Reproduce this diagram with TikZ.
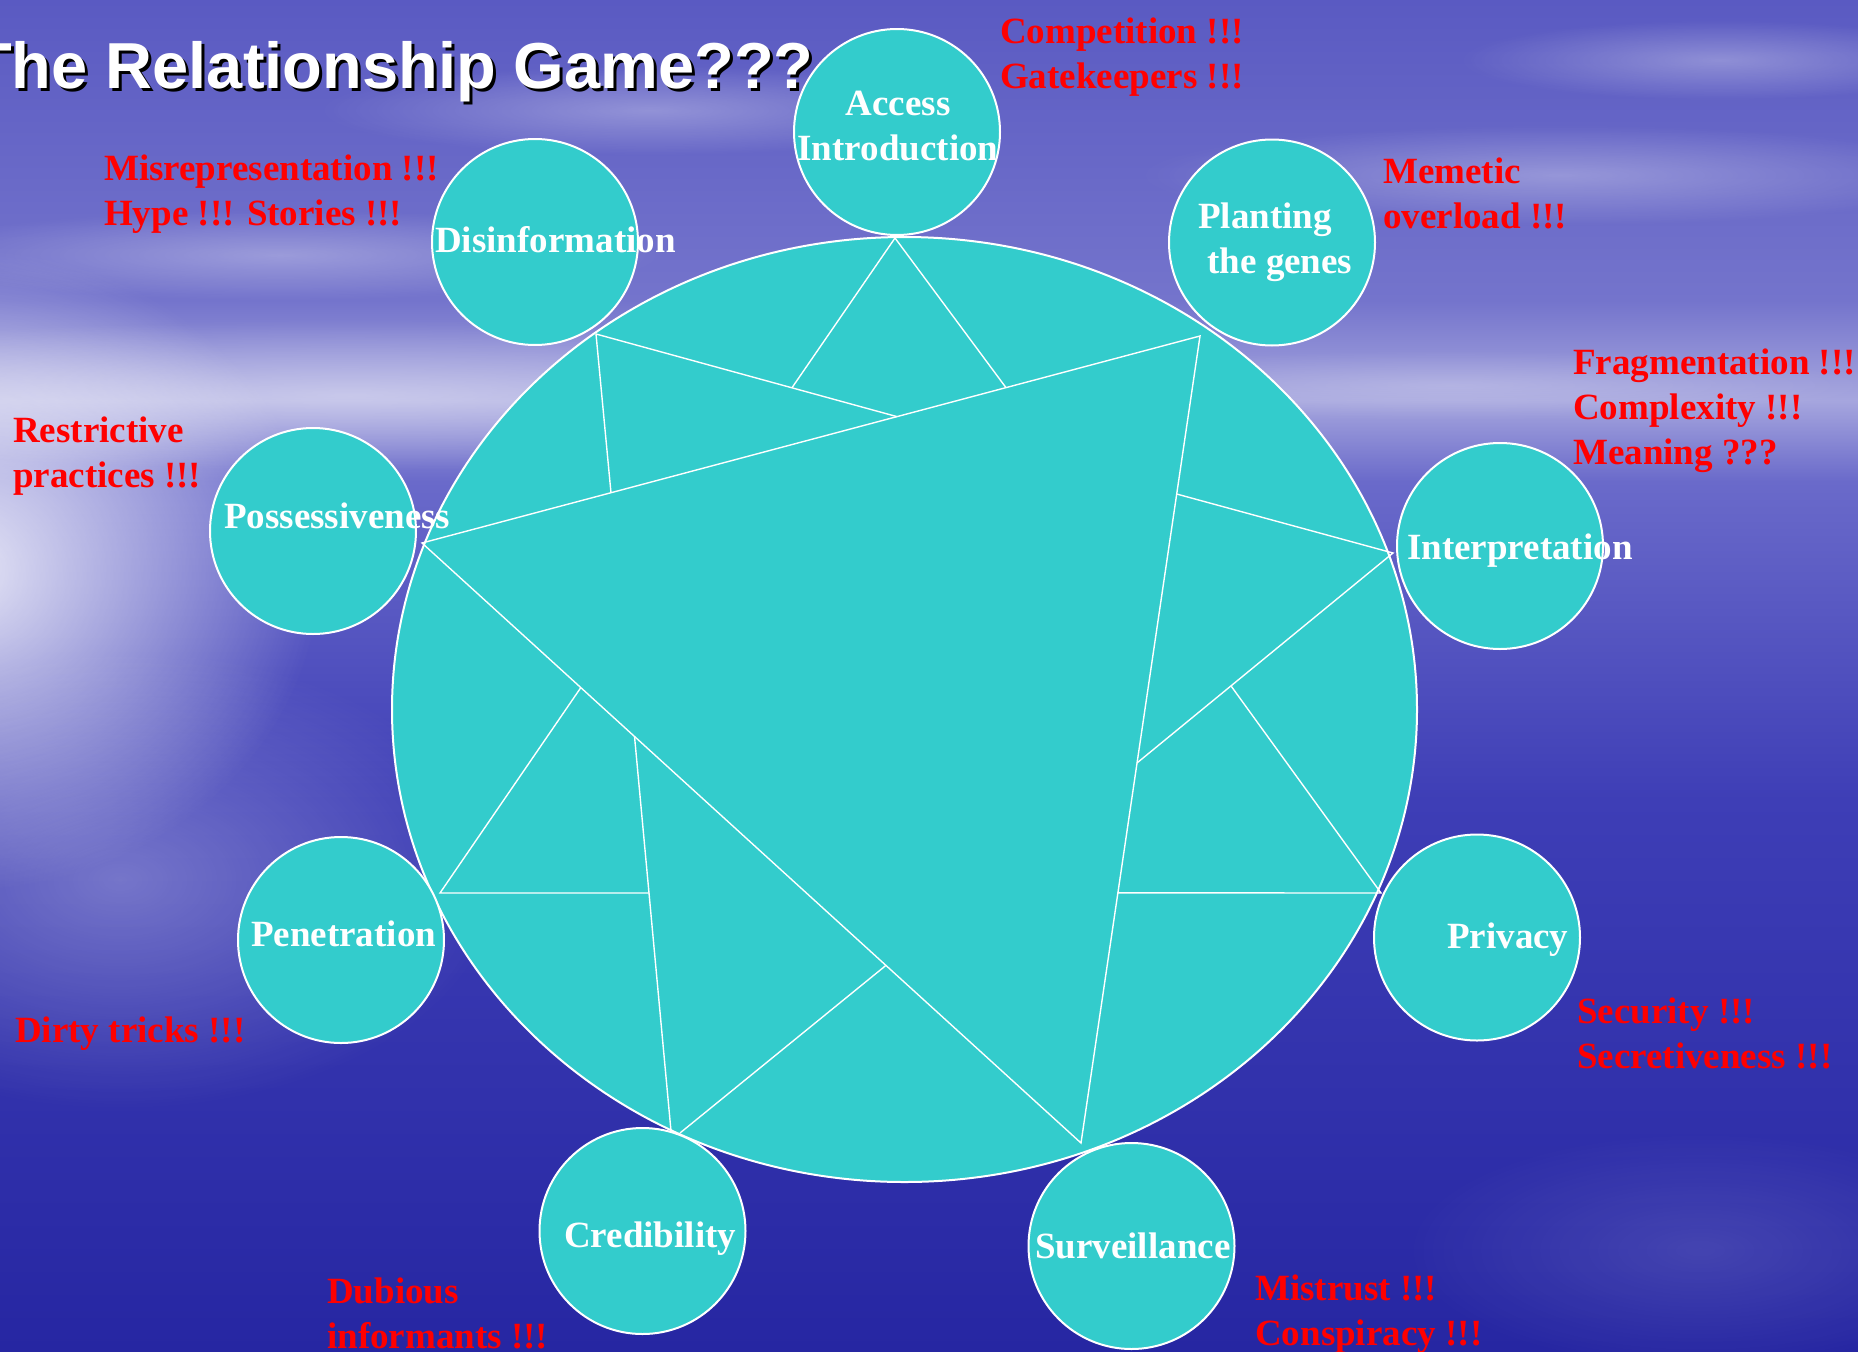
\documentclass[tikz,border=0pt]{standalone}
\usepackage{fontspec}
\setmainfont{Liberation Serif}
\newfontfamily\titlefont{Liberation Sans}
\usetikzlibrary{calc,fadings,shapes.geometric}
\definecolor{turq}{RGB}{51,204,204}
\definecolor{bgA}{RGB}{90,90,194}
\definecolor{bgB}{RGB}{116,116,204}
\definecolor{bgC}{RGB}{166,166,222}
\definecolor{bgD}{RGB}{106,106,202}
\definecolor{bgE}{RGB}{62,62,182}
\definecolor{bgF}{RGB}{38,38,162}
\pgfdeclareverticalshading{bgshade}{100bp}{color(0bp)=(bgF); color(25bp)=(bgF); color(45.4bp)=(bgE); color(57.2bp)=(bgD); color(60.2bp)=(bgC); color(63.9bp)=(bgB); color(75bp)=(bgA); color(100bp)=(bgA)}
\tikzfading[name=softglow, inner color=transparent!0, outer color=transparent!100]
\begin{document}
\begin{tikzpicture}[x=1pt,y=-1pt,
  lbl/.style={font=\fontsize{37}{45}\selectfont\bfseries, inner sep=0pt, align=left, anchor=north west},
  redlbl/.style={lbl, text=red},
  whitelbl/.style={lbl, text=white},
  titlestyle/.style={font=\titlefont\bfseries\fontsize{65}{72}\selectfont, inner sep=0pt, anchor=base west},
  bubble/.style={circle, draw=white, line width=2pt, fill=turq, minimum size=206pt, inner sep=0pt},
  wheelstyle/.style={ellipse, draw=white, line width=2pt, fill=turq, minimum width=1025pt, minimum height=945pt, inner sep=0pt},
  web/.style={draw=white, line width=1.4pt},
  glow/.style={fill=white, path fading=softglow},
]
\useasboundingbox (0,0) rectangle (1858,1352);
% background
\shade[shading=bgshade] (0,0) rectangle (1858,1352);
\fill[glow, fill opacity=0.85] (-40,570) ellipse [x radius=360, y radius=320];
\fill[glow, fill opacity=0.40] (350,395) ellipse [x radius=750, y radius=75];
\fill[glow, fill opacity=0.30] (280,255) ellipse [x radius=380, y radius=45];
\fill[glow, fill opacity=0.30] (650,110) ellipse [x radius=330, y radius=45];
\fill[glow, fill opacity=0.30] (1560,175) ellipse [x radius=420, y radius=50];
\fill[glow, fill opacity=0.30] (1720,60) ellipse [x radius=260, y radius=40];
\fill[glow, fill opacity=0.22] (1450,385) ellipse [x radius=420, y radius=35];
\fill[glow, fill opacity=0.30] (120,880) ellipse [x radius=380, y radius=230];
\fill[glow, fill opacity=0.12] (1700,1250) ellipse [x radius=300, y radius=120];

% main wheel
\node[wheelstyle] (wheel) at (904.5,709.5) {};

% vertices
\coordinate (A) at (895,238);
\coordinate (B) at (596,334);
\coordinate (C) at (1200,336);
\coordinate (D) at (422,543);
\coordinate (E) at (1393,553);
\coordinate (F) at (440,893);
\coordinate (G) at (1381,893);
\coordinate (H) at (671,1131);
\coordinate (H2) at (680,1133);
\coordinate (I) at (1081,1143);
% inner points
\coordinate (M) at ($(D)!0.6105!(C)$);
\coordinate (P2) at ($(D)!0.7506!(C)$);
\coordinate (Q) at ($(D)!0.2429!(C)$);
\coordinate (P1) at ($(B)!0.651!(M)$);
\coordinate (R) at ($(C)!0.1958!(I)$);
\coordinate (S1) at ($(C)!0.529!(I)$);
\coordinate (S2) at ($(C)!0.690!(I)$);
\coordinate (T) at ($(E)!0.633!(S1)$);
\coordinate (N1) at ($(D)!0.241!(I)$);
\coordinate (N2) at ($(D)!0.3225!(I)$);
\coordinate (N3) at ($(D)!0.704!(I)$);
\coordinate (L2) at ($(N2)!0.3967!(H)$);

% web lines
\draw[web] (D) -- (C) -- (I) -- cycle;
\draw[web] (B) -- (M);
\draw[web] (B) -- (Q);
\draw[web] (P1) -- (A) -- (P2);
\draw[web] (R) -- (E) -- (S1);
\draw[web] (T) -- (G) -- (S2);
\draw[web] (N1) -- (F) -- (L2);
\draw[web] (N2) -- (H);
\draw[web] (H2) -- (N3);

% bubbles
\node[bubble] (acc) at (897,132) {};
\node[bubble] (dis) at (535,242) {};
\node[bubble] (pla) at (1272,242.5) {};
\node[bubble] (pos) at (313,531) {};
\node[bubble] (int) at (1500,546) {};
\node[bubble] (pen) at (341,940) {};
\node[bubble] (pri) at (1477,937.5) {};
\node[bubble] (cre) at (642.5,1231) {};
\node[bubble] (sur) at (1131.5,1246) {};

% white labels
\node[whitelbl, anchor=north, align=center] (accl) at (898,83.5) {\strut Access\\\strut Introduction};
\node[whitelbl] (disl) at (435,220.5) {\strut Disinformation};
\node[whitelbl] (plal) at (1198,196.5) {\strut Planting\\\strut~the genes};
\node[whitelbl] (posl) at (224,496.5) {\strut Possessiveness};
\node[whitelbl] (intl) at (1407,527.5) {\strut Interpretation};
\node[whitelbl] (penl) at (251,914.5) {\strut Penetration};
\node[whitelbl] (pril) at (1447,916.5) {\strut Privacy};
\node[whitelbl] (crel) at (564,1215.5) {\strut Credibility};
\node[whitelbl] (surl) at (1035,1226.5) {\strut Surveillance};

% red labels
\node[redlbl] (comp) at (1000,11.5) {\strut Competition !!!\\\strut Gatekeepers !!!};
\node[redlbl] (misr) at (104,148.5) {\strut Misrepresentation !!!\\\strut Hype !!! Stories !!!};
\node[redlbl] (meme) at (1383,151.5) {\strut Memetic\\\strut overload !!!};
\node[redlbl] (frag) at (1573,342.5) {\strut Fragmentation !!!\\\strut Complexity !!!\\\strut Meaning ???};
\node[redlbl] (restr) at (13,410.5) {\strut Restrictive\\\strut practices !!!};
\node[redlbl] (dirty) at (15,1010.5) {\strut Dirty tricks !!!};
\node[redlbl] (secu) at (1577,991.5) {\strut Security !!!\\\strut Secretiveness !!!};
\node[redlbl] (mist) at (1255,1268.5) {\strut Mistrust !!!\\\strut Conspiracy !!!};
\node[redlbl] (dub) at (327,1271.5) {\strut Dubious\\\strut informants !!!};

% title
\node[titlestyle, text=black] (titleshadow) at (-25,91) {The Relationship Game???};
\node[titlestyle, text=white] (title) at (-28,88) {The Relationship Game???};
\end{tikzpicture}
\end{document}
